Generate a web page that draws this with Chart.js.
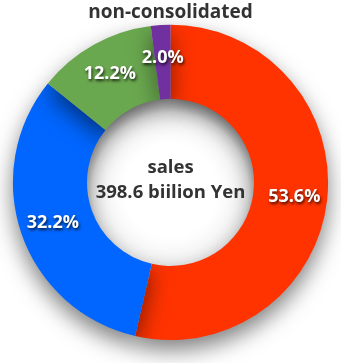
<!DOCTYPE html>
<html>
<head>
<meta charset="utf-8">
<script src="https://cdn.jsdelivr.net/npm/chart.js@4.4.0/dist/chart.umd.min.js"></script>
<style>
  html, body { margin: 0; padding: 0; background: #fff; }
  #wrap { width: 341px; height: 363px; }
</style>
</head>
<body>
<div id="wrap"><canvas id="salesChart"></canvas></div>
<script>
const segments = ['other', 'segment B', 'segment C', 'segment D'];
const shares = [53.6, 32.2, 12.2, 2.0];
const segmentColors = ['#ff3300', '#0066ff', '#6aa84f', '#7030a0'];
const centerLines = ['sales', '398.6 biilion Yen'];
const fontFamily = '"Open Sans", "DejaVu Sans", sans-serif';

// ombre portée sous l'anneau + ombrage du trou
const shadowPlugin = {
    id: 'ringShadow',
    beforeDatasetsDraw(chart) {
        const ctx = chart.ctx;
        const arc = chart.getDatasetMeta(0).data[0];
        if (arc) {
            const ri = arc.innerRadius;
            const g = ctx.createRadialGradient(arc.x, arc.y + 8, ri * 0.55, arc.x, arc.y + 8, ri + 8);
            g.addColorStop(0, '#ffffff');
            g.addColorStop(0.7, '#f2f2f2');
            g.addColorStop(1, '#bdbdbd');
            ctx.save();
            ctx.beginPath();
            ctx.arc(arc.x, arc.y, ri + 1, 0, Math.PI * 2);
            ctx.fillStyle = g;
            ctx.fill();
            ctx.restore();
        }
        ctx.save();
        ctx.shadowColor = 'rgba(0, 0, 0, 0.5)';
        ctx.shadowBlur = 22;
        ctx.shadowOffsetY = 10;
    },
    afterDatasetsDraw(chart) {
        chart.ctx.restore();
    }
};

// pourcentages + texte central
const labelPlugin = {
    id: 'sliceLabels',
    afterDraw(chart) {
        const ctx = chart.ctx;
        const meta = chart.getDatasetMeta(0);
        ctx.save();
        ctx.textAlign = 'center';
        ctx.textBaseline = 'middle';
        ctx.font = 'bold 18px ' + fontFamily;
        meta.data.forEach((arc, i) => {
            const mid = (arc.startAngle + arc.endAngle) / 2;
            const r = (arc.innerRadius + arc.outerRadius) / 2 + 4;
            const x = arc.x + Math.cos(mid) * r;
            const y = arc.y + Math.sin(mid) * r;
            ctx.shadowColor = 'rgba(0, 0, 0, 0.75)';
            ctx.shadowBlur = 3;
            ctx.shadowOffsetX = 1;
            ctx.shadowOffsetY = 2;
            ctx.fillStyle = '#ffffff';
            ctx.fillText(shares[i].toFixed(1) + '%', x, y);
        });
        ctx.shadowColor = 'transparent';
        ctx.fillStyle = '#333333';
        ctx.font = 'bold 18.5px ' + fontFamily;
        const cx = meta.data[0].x;
        const cy = meta.data[0].y;
        ctx.fillText(centerLines[0], cx, cy - 15);
        ctx.fillText(centerLines[1], cx, cy + 10);
        ctx.restore();
    }
};

new Chart(document.getElementById('salesChart'), {
    type: 'doughnut',
    data: {
        labels: segments,
        datasets: [{
            data: shares,
            backgroundColor: segmentColors,
            borderWidth: 0
        }]
    },
    options: {
        responsive: true,
        maintainAspectRatio: false,
        animation: false,
        cutout: '53%',
        layout: { padding: { top: 0, bottom: 23 } },
        plugins: {
            legend: { display: false },
            tooltip: { enabled: false },
            title: {
                display: true,
                text: 'non-consolidated',
                color: '#333333',
                font: { family: fontFamily, size: 19, weight: 'bold' },
                padding: { top: 1, bottom: 1 }
            }
        }
    },
    plugins: [shadowPlugin, labelPlugin]
});
</script>
</body>
</html>
